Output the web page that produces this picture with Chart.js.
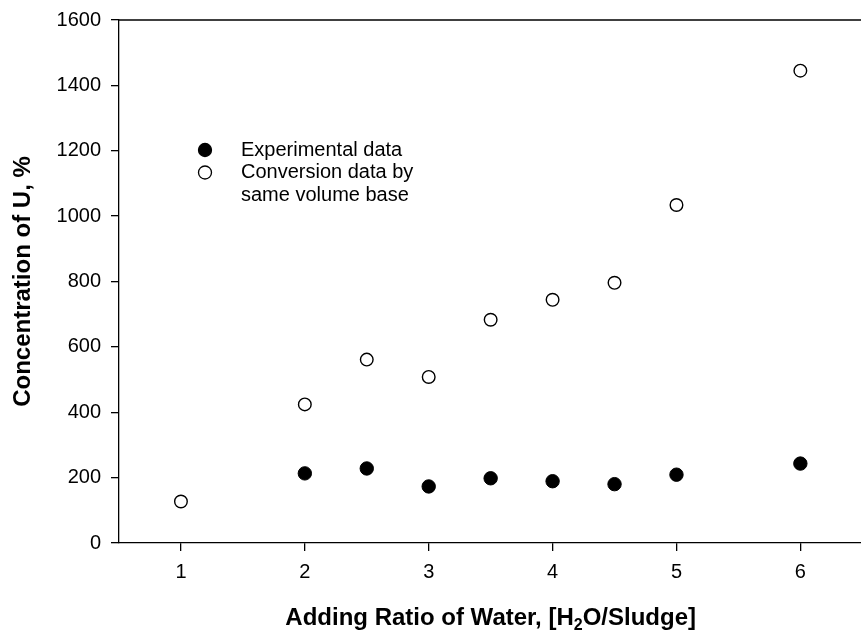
<!DOCTYPE html>
<html lang="en">
<head>
  <meta charset="utf-8">
  <title>Concentration of U</title>
  <script src="https://cdn.jsdelivr.net/npm/chart.js"></script>
  <style>
    body { margin: 0; overflow: hidden; background: white; }
    #wrap { width: 870px; height: 639px; }
  </style>
</head>
<body>
<div id="wrap"><canvas id="chart" width="870" height="639"></canvas></div>
<script>
  // values
  const ratios = [1, 2, 2.5, 3, 3.5, 4, 4.5, 5, 6];
  const experimental = [null, 213, 228, 173, 198, 189, 180, 209, 243];
  const conversion = [127, 424, 561, 508, 683, 744, 796, 1034, 1445];
  const xTicks = [1, 2, 3, 4, 5, 6];
  const legendLabels = ['Experimental data', 'Conversion data by\nsame volume base'];
  // x title pieces: before subscript, subscript, after
  const xTitle = ['Adding Ratio of Water, [H', '2', 'O/Sludge]'];

  function toPoints(values) {
    const pts = [];
    ratios.forEach((r, i) => {
      if (values[i] !== null) pts.push({ x: r, y: values[i] });
    });
    return pts;
  }

  const font = 'Liberation Sans, Arial, sans-serif';

  // legend inside the plot, top frame line, x title with subscript
  const extras = {
    id: 'extras',
    afterDraw(chart) {
      const ctx = chart.ctx;
      const a = chart.chartArea;
      ctx.save();
      ctx.strokeStyle = '#000';
      ctx.lineWidth = 1.3;
      ctx.beginPath();
      ctx.moveTo(a.left, a.top);
      ctx.lineTo(a.right, a.top);
      ctx.stroke();

      // legend
      ctx.font = '20px ' + font;
      ctx.textBaseline = 'middle';
      let y = 150;
      chart.data.datasets.forEach((ds, i) => {
        ctx.beginPath();
        ctx.arc(205, y, 6.5, 0, Math.PI * 2);
        ctx.fillStyle = ds.pointBackgroundColor;
        ctx.fill();
        ctx.lineWidth = 1.3;
        ctx.strokeStyle = '#000';
        ctx.stroke();
        ctx.fillStyle = '#000';
        legendLabels[i].split('\n').forEach(line => {
          ctx.fillText(line, 241, y);
          y += 22.5;
        });
      });

      // x axis title
      const big = 'bold 24px ' + font;
      const small = 'bold 16px ' + font;
      ctx.font = big;
      const w0 = ctx.measureText(xTitle[0]).width;
      const w2 = ctx.measureText(xTitle[2]).width;
      ctx.font = small;
      const w1 = ctx.measureText(xTitle[1]).width;
      let x = (a.left + a.right) / 2 - (w0 + w1 + w2) / 2;
      const base = 625;
      ctx.textBaseline = 'alphabetic';
      ctx.textAlign = 'left';
      ctx.font = big;
      ctx.fillText(xTitle[0], x, base);
      x += w0;
      ctx.font = small;
      ctx.fillText(xTitle[1], x, base + 5);
      x += w1;
      ctx.font = big;
      ctx.fillText(xTitle[2], x, base);
      ctx.restore();
    }
  };

  new Chart(document.getElementById('chart'), {
    type: 'scatter',
    data: {
      datasets: [
        {
          label: 'Experimental data',
          data: toPoints(experimental),
          pointRadius: 6.7,
          pointBackgroundColor: '#000',
          pointBorderColor: '#000',
          pointBorderWidth: 1
        },
        {
          label: 'Conversion data by same volume base',
          data: toPoints(conversion),
          pointRadius: 6.3,
          pointBackgroundColor: '#fff',
          pointBorderColor: '#000',
          pointBorderWidth: 1.4
        }
      ]
    },
    options: {
      responsive: false,
      animation: false,
      layout: { padding: { top: 18.7, right: 1, left: 0, bottom: 0 } },
      plugins: { legend: { display: false }, tooltip: { enabled: false } },
      scales: {
        x: {
          type: 'linear',
          min: 0.5,
          max: 6.5,
          afterBuildTicks: s => { s.ticks = xTicks.map(v => ({ value: v })); },
          afterFit: s => { s.height = 96; },
          border: { color: '#000', width: 1.3 },
          grid: { drawOnChartArea: false, color: '#000', tickLength: 8, lineWidth: 1.3 },
          ticks: { color: '#000', font: { family: font, size: 20, lineHeight: 1 }, padding: 11 }
        },
        y: {
          min: 0,
          max: 1600,
          afterFit: s => { s.width = 119; },
          border: { color: '#000', width: 1.3 },
          grid: { drawOnChartArea: false, color: '#000', tickLength: 8, lineWidth: 1.3 },
          ticks: {
            stepSize: 200,
            color: '#000',
            font: { family: font, size: 20, lineHeight: 1 },
            padding: 10,
            callback: v => String(v)
          },
          title: {
            display: true,
            text: 'Concentration of U, %',
            color: '#000',
            font: { family: font, size: 24, weight: 'bold' },
            padding: { top: 9, bottom: 9 }
          }
        }
      }
    },
    plugins: [extras]
  });
</script>
</body>
</html>
